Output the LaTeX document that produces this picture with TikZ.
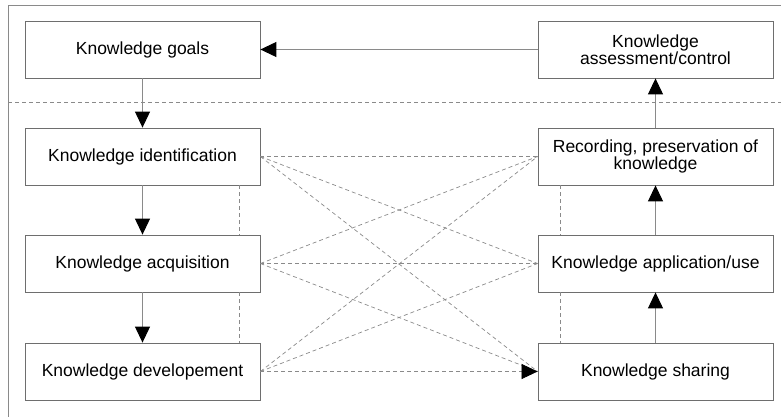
\documentclass[tikz,border=0pt]{standalone}
\usepackage{fontspec}
\setmainfont{Liberation Sans}
\usepackage{tikz}
\usetikzlibrary{positioning,arrows.meta,calc}
\definecolor{linegray}{HTML}{8A8A8A}
\definecolor{boxgray}{HTML}{6E6E6E}

\begin{document}
\begin{tikzpicture}[x=1pt, y=-1pt,
    kbox/.style={draw=boxgray, line width=0.8pt, fill=white, minimum width=235pt, minimum height=57pt,
        align=center, inner sep=2pt, font=\fontsize{17.5}{17}\selectfont},
    flow/.style={draw=linegray, line width=1pt, -{Triangle[length=16pt, width=15pt, black]}},
    link/.style={draw=linegray, line width=0.7pt, dash pattern=on 4pt off 3pt}]
    \useasboundingbox (0,0) rectangle (781,417);

    % Frame and separator
    \draw[linegray, line width=0.8pt] (8,417) -- (8,5) -- (781,5);
    \draw[link] (8,102) -- (781,102);

    % Left column
    \node[kbox] (goals) at (142.5, 49.5) {Knowledge goals};
    \node[kbox] (ident) at (142.5, 156.5) {Knowledge identification};
    \node[kbox] (acq)   at (142.5, 263.5) {Knowledge acquisition};
    \node[kbox] (dev)   at (142.5, 371.5) {Knowledge developement};

    % Right column
    \node[kbox] (assess) at (655.5, 49.5) {Knowledge\\assessment/control};
    \node[kbox] (record) at (655.5, 156.5) {Recording, preservation of\\knowledge};
    \node[kbox] (apply)  at (655.5, 263.5) {Knowledge application/use};
    \node[kbox] (share)  at (655.5, 371.5) {Knowledge sharing};

    % Main cycle
    \draw[flow] (assess) -- (goals);
    \draw[flow] (goals) -- (ident);
    \draw[flow] (ident) -- (acq);
    \draw[flow] (acq) -- (dev);
    \draw[flow] (share) -- (apply);
    \draw[flow] (apply) -- (record);
    \draw[flow] (record) -- (assess);

    % Dashed side links
    \draw[link] ($(ident.south)+(96.5,0)$) -- ($(acq.north)+(96.5,0)$);
    \draw[link] ($(acq.south)+(96.5,0)$) -- ($(dev.north)+(96.5,0)$);
    \draw[link] ($(record.south)+(-95.5,0)$) -- ($(apply.north)+(-95.5,0)$);
    \draw[link] ($(apply.south)+(-95.5,0)$) -- ($(share.north)+(-95.5,0)$);

    % Dashed cross links
    \foreach \src in {ident, acq, dev}
        \foreach \dst in {record, apply, share}
            \draw[link] (\src.east) -- (\dst.west);
    \draw[link, -{Triangle[length=16pt, width=15pt, black]}] (dev.east) -- (share.west);
\end{tikzpicture}
\end{document}
